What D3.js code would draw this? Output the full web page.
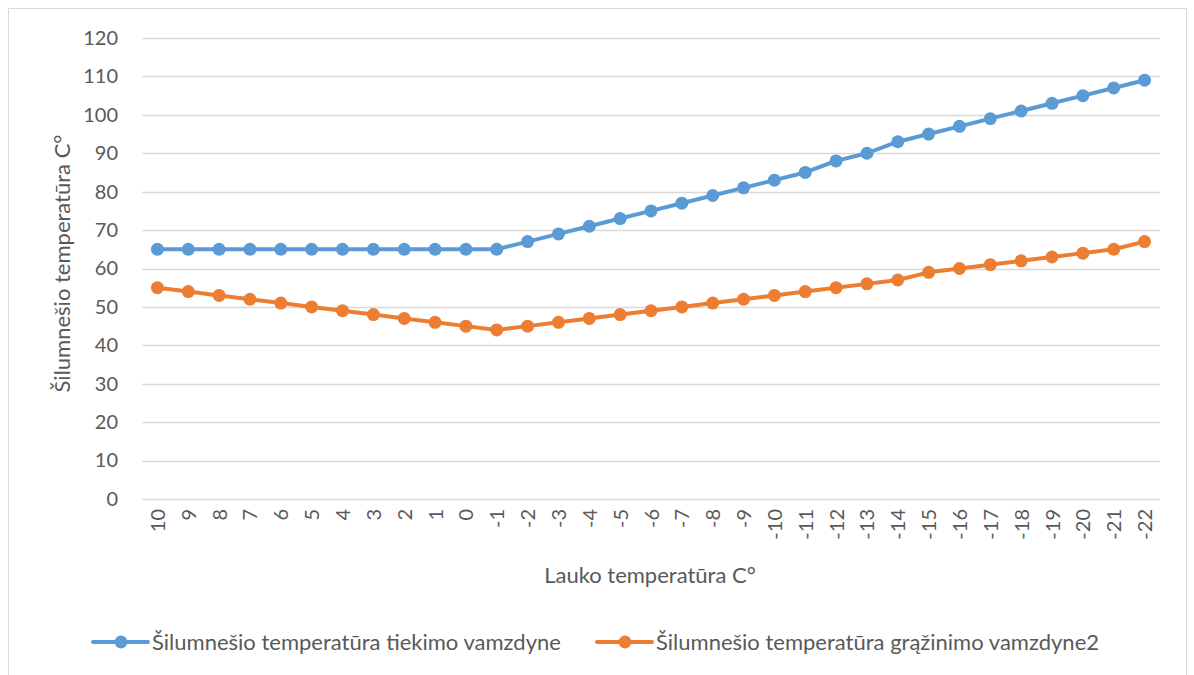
<!DOCTYPE html>
<html>
<head>
<meta charset="utf-8">
<script src="https://cdn.jsdelivr.net/npm/d3@7"></script>
<style>
  body { margin: 0; background: #fff; }
  svg { font-family: Lato, "Noto Sans", sans-serif; }
</style>
</head>
<body>
<div id="chart"></div>
<script>
// Outdoor temperatures (categories)
const categories = ['10','9','8','7','6','5','4','3','2','1','0','-1','-2','-3','-4','-5','-6','-7','-8','-9','-10','-11','-12','-13','-14','-15','-16','-17','-18','-19','-20','-21','-22'];
// Supply pipe temperature
const supplyValues = [65,65,65,65,65,65,65,65,65,65,65,65,67,69,71,73,75,77,79,81,83,85,88,90,93,95,97,99,101,103,105,107,109];
// Return pipe temperature
const returnValues = [55,54,53,52,51,50,49,48,47,46,45,44,45,46,47,48,49,50,51,52,53,54,55,56,57,59,60,61,62,63,64,65,67];
const yTicks = [0,10,20,30,40,50,60,70,80,90,100,110,120];
const seriesNames = ['Šilumnešio temperatūra tiekimo vamzdyne', 'Šilumnešio temperatūra grąžinimo vamzdyne2'];
const colors = ['#5B9BD5', '#ED7D31'];

const width = 1194, height = 675;
const margins = { top: 38, right: 34, bottom: 176, left: 142 };
const innerWidth = width - margins.left - margins.right;
const innerHeight = height - margins.top - margins.bottom;

const svg = d3.select('#chart').append('svg')
    .attr('width', width)
    .attr('height', height);

// outer chart border (bottom edge runs past the picture)
svg.append('path')
    .attr('d', 'M8.5,675V8.5H1186.5V675')
    .attr('fill', 'none')
    .attr('stroke', '#d9d9d9');

const g = svg.append('g')
    .attr('transform', `translate(${margins.left},${margins.top})`);

const x = d3.scalePoint()
    .domain(categories)
    .range([0, innerWidth])
    .padding(0.5);

const y = d3.scaleLinear()
    .domain([0, 120])
    .range([innerHeight, 0]);

// gridlines
g.selectAll('.grid')
    .data(yTicks)
    .enter().append('line')
    .attr('x1', 0).attr('x2', innerWidth)
    .attr('y1', d => Math.round(y(d)) + 0.5)
    .attr('y2', d => Math.round(y(d)) + 0.5)
    .attr('stroke', '#d9d9d9')
    .attr('stroke-width', 1.5);

// y axis labels
const yAxis = g.append('g')
    .call(d3.axisLeft(y).tickValues(yTicks).tickSize(0).tickPadding(24));
yAxis.select('.domain').remove();
yAxis.selectAll('text')
    .attr('fill', '#595959')
    .style('font-size', '20px')
    .style('font-family', 'Lato, "Noto Sans", sans-serif');

// x axis labels, rotated
const xAxis = g.append('g')
    .attr('transform', `translate(0,${innerHeight})`)
    .call(d3.axisBottom(x).tickSize(0));
xAxis.select('.domain').remove();
xAxis.selectAll('text')
    .attr('fill', '#595959')
    .style('font-size', '20px')
    .style('font-family', 'Lato, "Noto Sans", sans-serif')
    .attr('transform', 'rotate(-90)')
    .attr('x', -10)
    .attr('y', 0)
    .attr('dy', '0.35em')
    .style('text-anchor', 'end');

// axis titles
svg.append('text')
    .attr('x', 650).attr('y', 575)
    .attr('dy', '0.35em')
    .attr('text-anchor', 'middle')
    .attr('fill', '#595959')
    .style('font-size', '22px')
    .text('Lauko temperatūra C°');

svg.append('text')
    .attr('transform', `translate(62,${margins.top + innerHeight / 2 - 5}) rotate(-90)`)
    .attr('dy', '0.35em')
    .attr('text-anchor', 'middle')
    .attr('fill', '#595959')
    .style('font-size', '22px')
    .text('Šilumnešio temperatūra C°');

// series
const series = [supplyValues, returnValues];
const line = d3.line()
    .x((d, i) => x(categories[i]))
    .y(d => y(d));

series.forEach((vals, s) => {
    g.append('path')
        .datum(vals)
        .attr('fill', 'none')
        .attr('stroke', colors[s])
        .attr('stroke-width', 4)
        .attr('stroke-linejoin', 'round')
        .attr('stroke-linecap', 'round')
        .attr('d', line);

    g.selectAll(`.pt${s}`)
        .data(vals)
        .enter().append('circle')
        .attr('cx', (d, i) => x(categories[i]))
        .attr('cy', d => y(d))
        .attr('r', 6.5)
        .attr('fill', colors[s]);
});

// legend
const legendItems = [{ x: 93, name: seriesNames[0] }, { x: 597, name: seriesNames[1] }];
legendItems.forEach((item, s) => {
    const lg = svg.append('g').attr('transform', `translate(${item.x},642)`);
    lg.append('line')
        .attr('x1', 0).attr('x2', 55)
        .attr('y1', 0).attr('y2', 0)
        .attr('stroke', colors[s])
        .attr('stroke-width', 4)
        .attr('stroke-linecap', 'round');
    lg.append('circle')
        .attr('cx', 28).attr('cy', 0).attr('r', 6.5)
        .attr('fill', colors[s]);
    lg.append('text')
        .attr('x', 59).attr('y', 0)
        .attr('dy', '0.35em')
        .attr('fill', '#595959')
        .style('font-size', '22px')
        .text(item.name);
});
</script>
</body>
</html>
